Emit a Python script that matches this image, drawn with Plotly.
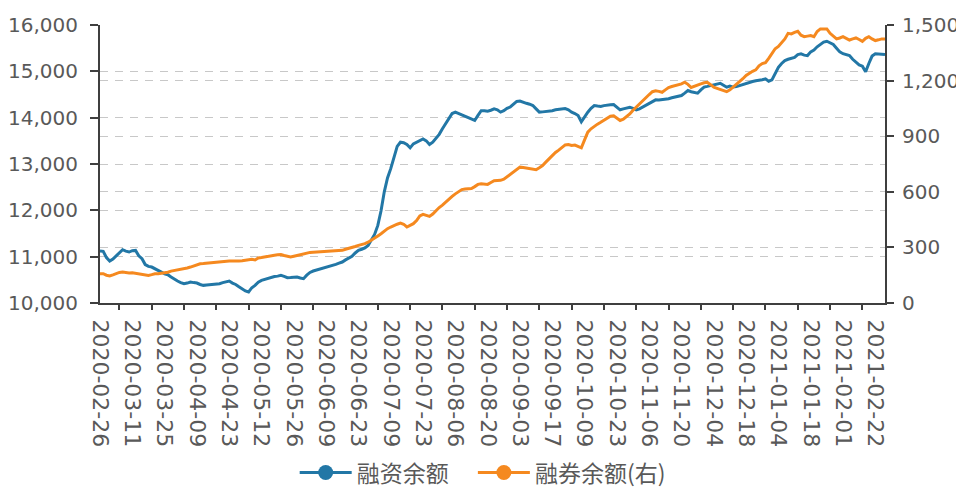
import pandas as pd
import plotly.graph_objects as go

# ---- categories: A-share trading days 2020-02-26 .. 2021-02-25 ----
holidays = ["2020-04-06", "2020-05-01", "2020-05-04", "2020-05-05",
            "2020-06-25", "2020-06-26", "2020-10-01", "2020-10-02",
            "2020-10-05", "2020-10-06", "2020-10-07", "2020-10-08",
            "2021-01-01", "2021-02-11", "2021-02-12", "2021-02-15",
            "2021-02-16", "2021-02-17"]
days = pd.bdate_range("2020-02-26", "2021-02-25")
dates = [d.strftime("%Y-%m-%d") for d in days if d.strftime("%Y-%m-%d") not in holidays]

# ---- series values (亿元) ----
margin_financing = [
    11120, 11114, 10980, 10906, 10950, 11020, 11080, 11150, 11120, 11100,
    11130, 11135, 11020, 10956, 10830, 10790, 10776, 10745, 10700, 10668,
    10630, 10610, 10560, 10510, 10474, 10440, 10417, 10430, 10453, 10440,
    10431, 10400, 10381, 10390, 10395, 10402, 10410, 10417, 10440, 10460,
    10474, 10430, 10400, 10350, 10300, 10260, 10237, 10330, 10381, 10450,
    10489, 10510, 10540, 10561, 10570, 10580, 10597, 10575, 10546, 10550,
    10560, 10561, 10540, 10525, 10600, 10660, 10690, 10710, 10730, 10750,
    10760, 10790, 10815, 10834, 10860, 10884, 10930, 10970, 11006, 11080,
    11136, 11160, 11190, 11243, 11350, 11480, 11675, 11990, 12400, 12700,
    12900, 13130, 13380, 13470, 13460, 13420, 13349, 13435, 13470, 13493,
    13540, 13500, 13421, 13470, 13550, 13640, 13760, 13880, 13990, 14090,
    14120, 14090, 14068, 14040, 14010, 13980, 13940, 14050, 14150, 14150,
    14140, 14160, 14190, 14170, 14120, 14150, 14200, 14230, 14290, 14350,
    14360, 14330, 14310, 14290, 14262, 14190, 14120, 14125, 14130, 14140,
    14150, 14169, 14180, 14190, 14197, 14170, 14120, 14090, 14046, 13910,
    14020, 14118, 14200, 14262, 14250, 14240, 14260, 14276, 14280, 14283,
    14230, 14170, 14190, 14210, 14226, 14200, 14170, 14190, 14230, 14262,
    14300, 14350, 14384, 14380, 14390, 14384, 14410, 14430, 14442, 14460,
    14478, 14530, 14585, 14560, 14540, 14528, 14600, 14660, 14675, 14690,
    14700, 14730, 14743, 14700, 14657, 14680, 14660, 14670, 14693, 14720,
    14745, 14765, 14780, 14795, 14801, 14820, 14837, 14787, 14815, 14950,
    15088, 15170, 15232, 15260, 15280, 15300, 15360, 15376, 15350, 15340,
    15420, 15460, 15530, 15590, 15630, 15649, 15620, 15580, 15500, 15420,
    15380, 15360, 15340, 15260, 15196, 15140, 15110, 14990, 15170, 15330,
    15380, 15376, 15370, 15361,
]
securities_lending = [
    158, 158, 150, 146, 152, 160, 165, 167, 163, 162,
    163, 160, 158, 155, 150, 149, 153, 158, 158, 160,
    162, 166, 172, 175, 178, 180, 184, 189, 194, 200,
    206, 212, 213, 215, 216, 217, 218, 219, 221, 224,
    226, 226, 225, 226, 228, 231, 234, 236, 232, 243,
    245, 249, 252, 255, 258, 260, 261, 256, 250, 248,
    252, 257, 262, 266, 270, 273, 274, 275, 276, 277,
    277, 278, 279, 280, 280, 284, 290, 294, 300, 305,
    311, 315, 320, 328, 338, 350, 362, 374, 388, 401,
    410, 419, 425, 431, 425, 410, 418, 428, 445, 470,
    478, 472, 467, 480, 500, 515, 528, 545, 560, 575,
    589, 600, 612, 615, 616, 618, 628, 640, 643, 642,
    640, 650, 660, 661, 662, 668, 680, 692, 705, 720,
    733, 731, 729, 727, 722, 719, 730, 742, 760, 778,
    795, 812, 825, 840, 853, 855, 850, 852, 845, 837,
    880, 922, 940, 955, 965, 975, 985, 995, 1008, 1010,
    995, 985, 992, 1005, 1020, 1040, 1057, 1075, 1095, 1110,
    1125, 1140, 1145, 1142, 1137, 1150, 1162, 1168, 1172, 1177,
    1182, 1191, 1180, 1163, 1168, 1177, 1182, 1188, 1191, 1178,
    1164, 1158, 1152, 1148, 1140, 1150, 1165, 1175, 1195, 1210,
    1228, 1240, 1250, 1258, 1280, 1292, 1297, 1320, 1350, 1372,
    1384, 1405, 1425, 1455, 1452, 1460, 1466, 1445, 1437, 1440,
    1443, 1437, 1465, 1479, 1478, 1479, 1455, 1440, 1425, 1430,
    1437, 1428, 1419, 1425, 1430, 1422, 1412, 1428, 1437, 1425,
    1416, 1420, 1425, 1425,
]
series_names = ["融资余额", "融券余额(右)"]
tick_labels = dates[::10]
left_ticks = [10000, 11000, 12000, 13000, 14000, 15000, 16000]
right_ticks = [0, 300, 600, 900, 1200, 1500]

assert len(dates) == len(margin_financing) == len(securities_lending)

BLUE = "#2277a6"
ORANGE = "#f5891f"
TXT = "#595959"
AX = "#3f3f3f"
GRID = "#c8c8c8"
n = len(dates)

fig = go.Figure()
fig.add_trace(go.Scatter(x=dates, y=margin_financing, mode="lines",
                         line=dict(color=BLUE, width=3), showlegend=False,
                         xaxis="x", yaxis="y"))
fig.add_trace(go.Scatter(x=dates, y=securities_lending, mode="lines",
                         line=dict(color=ORANGE, width=3), showlegend=False,
                         xaxis="x", yaxis="y2"))
# legend entries (line + circle symbol), one legend box each
for name, col, lg in zip(series_names, [BLUE, ORANGE], ["legend", "legend2"]):
    fig.add_trace(go.Scatter(x=[None], y=[None], mode="lines+markers", name=name,
                             line=dict(color=col, width=3),
                             marker=dict(color=col, size=15),
                             xaxis="x2", yaxis="y", legend=lg))

legend_style = dict(
    orientation="h", xanchor="left", y=-0.61, yanchor="middle",
    font=dict(family="Noto Sans CJK SC", size=23, color=TXT),
    itemwidth=52, bgcolor="rgba(0,0,0,0)",
)

# the page body has an 8px margin, so the figure is 8px smaller on each side
fig.update_layout(
    width=956, height=479,
    margin=dict(l=92, r=79, t=17, b=184, autoexpand=False),
    paper_bgcolor="white", plot_bgcolor="white",
    font=dict(family="DejaVu Sans", color=TXT),
    xaxis=dict(
        type="category", range=[0, n - 1], automargin=False,
        tickmode="array", tickvals=tick_labels, ticktext=tick_labels,
        tickangle=90, ticks="", showgrid=False, ticklabelstandoff=10,
        showline=True, linecolor=AX, linewidth=2,
        tickfont=dict(family="DejaVu Sans", size=22, color=TXT),
    ),
    xaxis2=dict(
        overlaying="x", anchor="y", side="bottom", range=[0, n - 1],
        tickmode="array", tickvals=list(range(6, n, 10)), automargin=False,
        ticks="outside", ticklen=6, tickwidth=1.5, tickcolor=AX,
        showticklabels=False, showgrid=False, showline=False, zeroline=False,
    ),
    yaxis=dict(
        range=[10000, 16000], tickmode="array", tickvals=left_ticks,
        tickformat=",d", showline=True, linecolor=AX, linewidth=2,
        ticks="outside", ticklen=8, tickwidth=1.5, tickcolor=AX,
        ticklabelstandoff=8, automargin=False,
        showgrid=True, gridcolor=GRID, griddash="8px,7px", gridwidth=1,
        zeroline=False,
        tickfont=dict(family="DejaVu Sans", size=20, color=TXT),
    ),
    yaxis2=dict(
        overlaying="y", side="right", anchor="x",
        range=[0, 1500], tickmode="array", tickvals=right_ticks,
        tickformat=",d", showline=True, linecolor=AX, linewidth=2,
        ticks="outside", ticklen=7, tickwidth=1.5, tickcolor=AX,
        ticklabelstandoff=4, automargin=False,
        showgrid=True, gridcolor=GRID, griddash="8px,7px", gridwidth=1,
        zeroline=False,
        tickfont=dict(family="DejaVu Sans", size=20, color=TXT),
    ),
    legend=dict(x=0.248, **legend_style),
    legend2=dict(x=0.475, **legend_style),
)

fig.write_html("out.html")
